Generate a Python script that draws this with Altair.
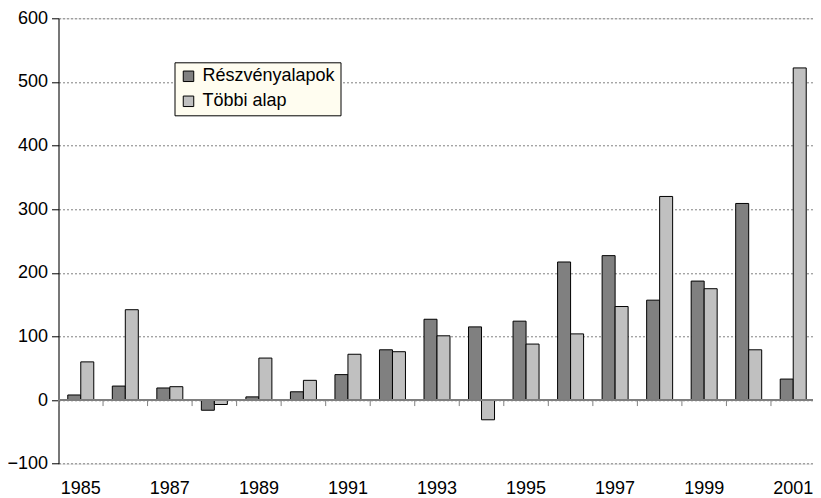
import altair as alt
import pandas as pd

years = list(range(1985, 2002))
reszveny = [8, 22, 19, -16, 5, 13, 40, 79, 127, 115, 124, 217, 227, 157, 187, 309, 33]
tobbi = [60, 142, 21, -7, 66, 31, 72, 76, 101, -31, 88, 104, 147, 320, 175, 79, 522]
series_names = ["Részvényalapok", "Többi alap"]
series_colors = ["#808080", "#C0C0C0"]
y_ticks = [-100, 0, 100, 200, 300, 400, 500, 600]
x_labels = list(range(1985, 2002, 2))

rows = []
for y, a, b in zip(years, reszveny, tobbi):
    rows.append({"year": y, "series": series_names[0], "value": a})
    rows.append({"year": y, "series": series_names[1], "value": b})
df = pd.DataFrame(rows)
df_years = pd.DataFrame({"year": years})

FONT = "Liberation Sans"

x_scale = alt.Scale(paddingInner=0, paddingOuter=0)

bars = alt.Chart(df).mark_bar(stroke="black", strokeWidth=1).encode(
    x=alt.X("year:O", scale=x_scale,
            axis=alt.Axis(title=None, values=x_labels, labelAngle=0, domain=False,
                          ticks=False, grid=False, labelPadding=16, labelFontSize=18,
                          labelFont=FONT, labelColor="black")),
    xOffset=alt.XOffset("series:N", sort=series_names,
                        scale=alt.Scale(paddingInner=0, paddingOuter=0.713)),
    y=alt.Y("value:Q", scale=alt.Scale(domain=[-100, 600], nice=False, zero=False),
            axis=alt.Axis(title=None, values=y_ticks, grid=True, gridDash=[2, 2],
                          gridColor="#808080", gridWidth=1, domainColor="black",
                          tickColor="black", tickSize=7, labelPadding=4,
                          labelFontSize=18, labelFont=FONT, labelColor="black")),
    color=alt.Color("series:N", sort=series_names,
                    scale=alt.Scale(domain=series_names, range=series_colors),
                    legend=alt.Legend(title=None, orient="none", legendX=116, legendY=44,
                                      symbolType="square", symbolSize=110,
                                      symbolStrokeColor="black", symbolStrokeWidth=1,
                                      labelFontSize=18, labelFont=FONT, labelColor="black",
                                      labelOffset=5, rowPadding=7, padding=5,
                                      fillColor="#FFFDF0", strokeColor="black",
                                      cornerRadius=0)),
)

zero_line = alt.Chart(df_years).mark_rule(color="#808080", strokeWidth=1).encode(
    y=alt.datum(0)
)

ticks = alt.Chart(df_years).mark_rule(color="#808080", strokeWidth=1, y2Offset=6).encode(
    x=alt.X("year:O", bandPosition=0),
    y=alt.datum(0),
    y2=alt.datum(0),
)

chart = alt.layer(bars, zero_line, ticks).properties(
    width=757, height=445.4,
    autosize=alt.AutoSizeParams(type="none"),
    padding={"left": 50.5, "top": 10.3, "right": -2.5, "bottom": 40},
).configure_view(stroke=None).configure(background="white")

chart.save("out.html", embed_options={"renderer": "svg", "actions": False})
